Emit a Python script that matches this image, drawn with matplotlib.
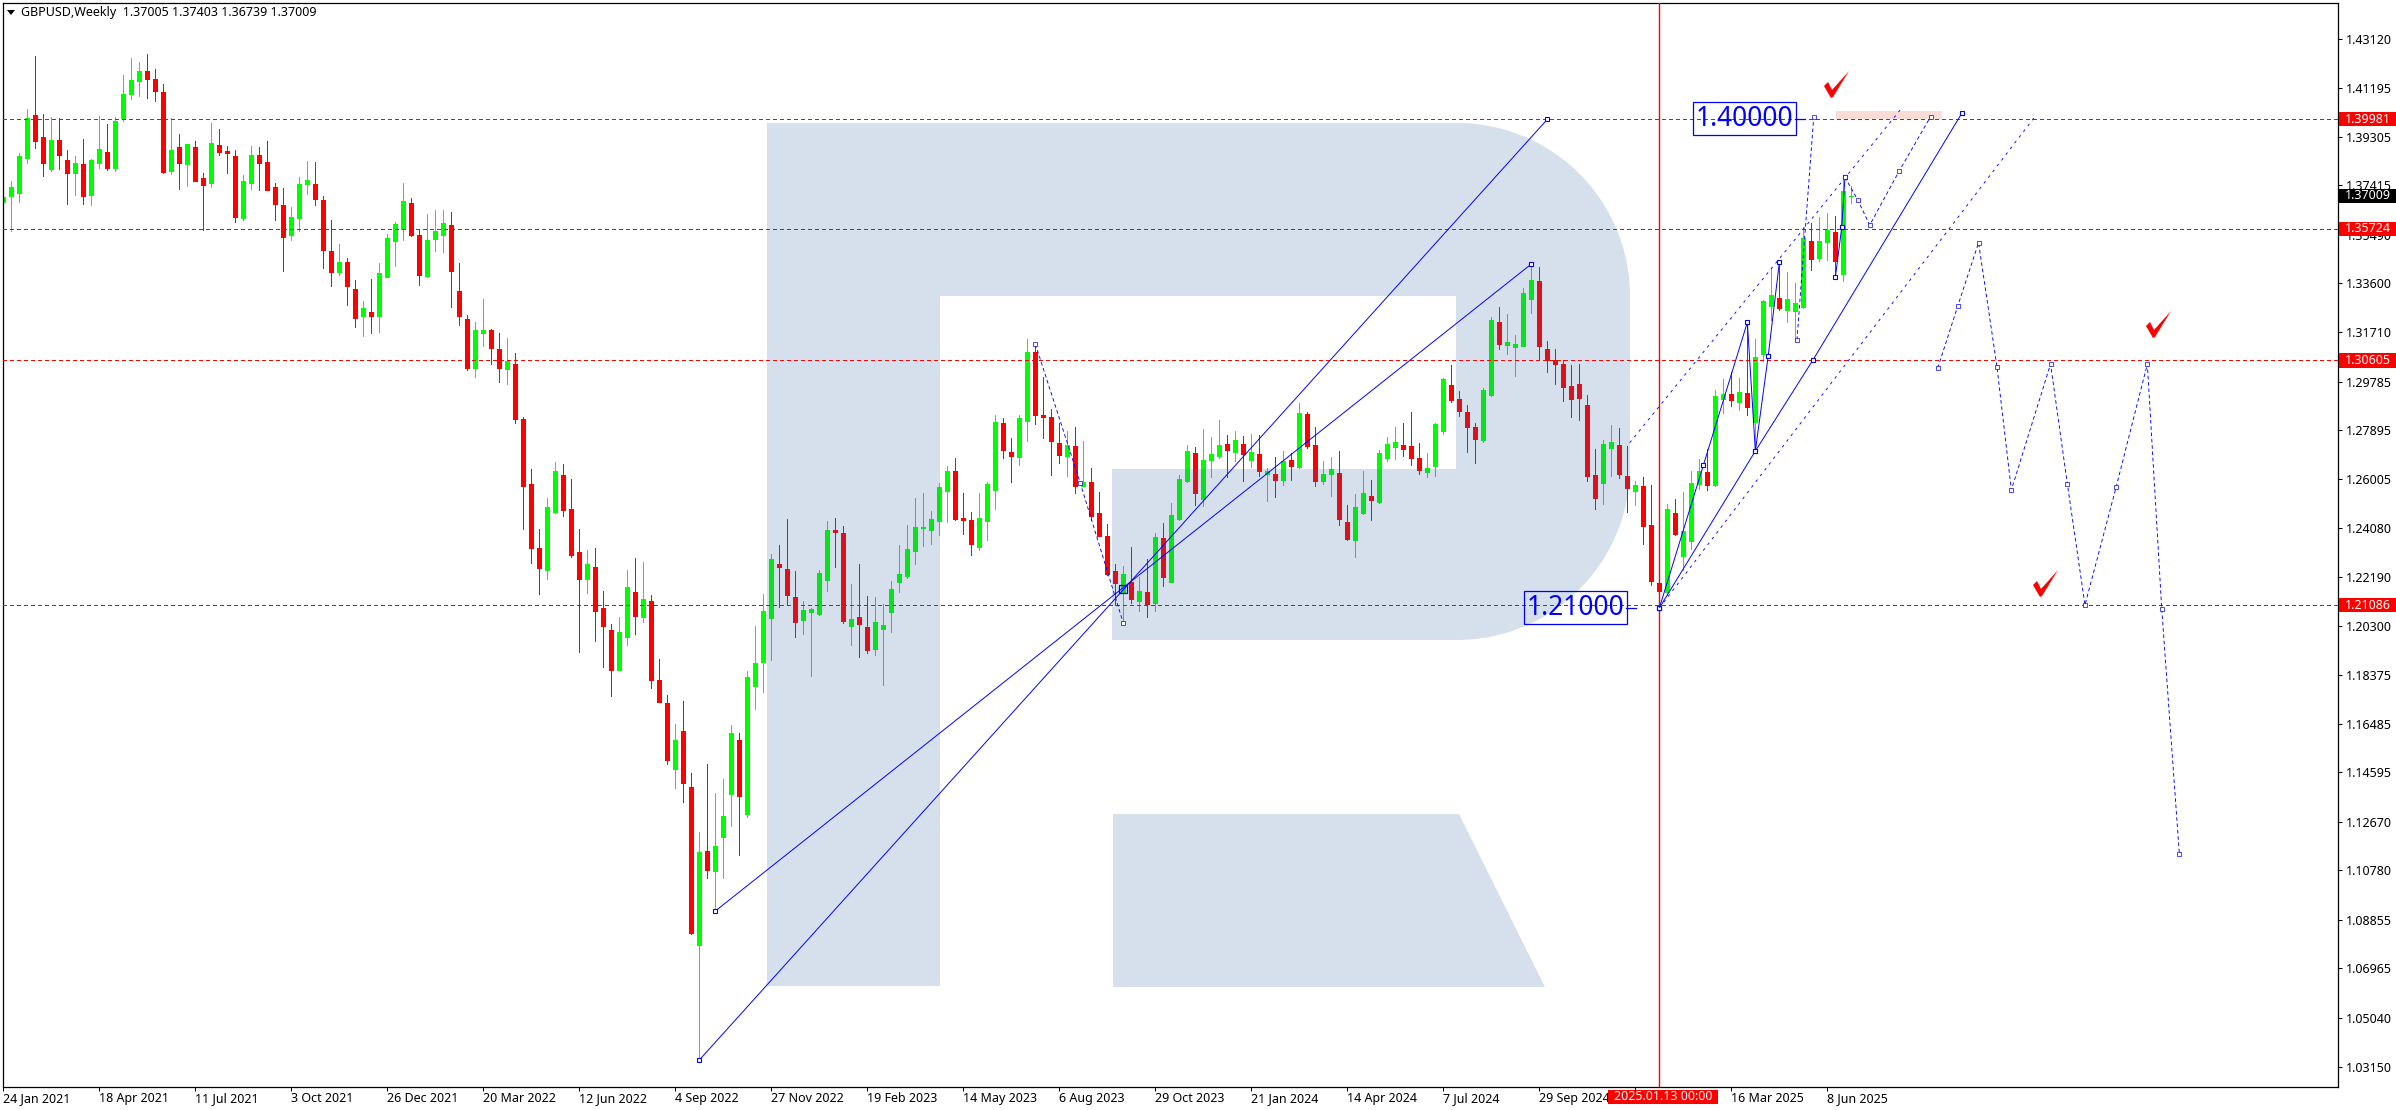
import matplotlib
matplotlib.use("Agg")
import matplotlib.pyplot as plt
import numpy as np
from matplotlib.patches import Polygon, Rectangle
from matplotlib.transforms import blended_transform_factory

W, H = 2396, 1110

# weekly candles, R = falling, G = rising
directions = (
    "GGGGRRGRRG" "RGGRGGGGRR" "RGRGRRGRRR" "GGRRRRGGGR" "RRGRRGRGGG" "GRRGGGRRRG"
    "GRRGRRRRGG" "RRRGRRRGGR" "GRRRGRRGRG" "GGRGGGGRRR" "GGGGRRGRRG" "GGGGGGGGGR"
    "RRGGGRRGGR" "RRRGRGRRRR" "GRGRGRGGGR" "GGGRGRGRGR" "GRGRRGGRRG" "GRGGGRRRGG"
    "GRRRRGGRGG" "GGRRRRRRRR" "GGRRGRRRGR" "GGGRGGRGRG" "GGRGGGRGGR" "GG"
)
highs = [
    1.3758, 1.3758, 1.3867, 1.4038, 1.4244, 1.4019, 1.4007, 1.4003, 1.3879, 1.3855,
    1.3921, 1.3844, 1.4011, 1.3980, 1.4007, 1.4170, 1.4236, 1.4221, 1.4252, 1.4194,
    1.4135, 1.4003, 1.3941, 1.3902, 1.3913, 1.3789, 1.3984, 1.3960, 1.3894, 1.3879,
    1.3781, 1.3894, 1.3890, 1.3913, 1.3750, 1.3731, 1.3657, 1.3773, 1.3836, 1.3832,
    1.3700, 1.3606, 1.3513, 1.3458, 1.3373, 1.3291, 1.3377, 1.3439, 1.3552, 1.3598,
    1.3750, 1.3692, 1.3567, 1.3630, 1.3645, 1.3645, 1.3637, 1.3439, 1.3237, 1.3209,
    1.3299, 1.3182, 1.3167, 1.3147, 1.3089, 1.2840, 1.2638, 1.2404, 1.2525, 1.2665,
    1.2657, 1.2599, 1.2404, 1.2322, 1.2330, 1.2163, 1.2035, 1.2062, 1.2245, 1.2291,
    1.2276, 1.2147, 1.1898, 1.1758, 1.1646, 1.1735, 1.1455, 1.1229, 1.1490, 1.1377,
    1.1435, 1.1642, 1.1611, 1.1852, 1.2027, 1.2151, 1.2307, 1.2342, 1.2443, 1.2241,
    1.2124, 1.2097, 1.2245, 1.2435, 1.2447, 1.2416, 1.2190, 1.2268, 1.2144, 1.2140,
    1.2112, 1.2202, 1.2342, 1.2420, 1.2525, 1.2544, 1.2474, 1.2583, 1.2649, 1.2680,
    1.2544, 1.2470, 1.2544, 1.2587, 1.2848, 1.2836, 1.2758, 1.2848, 1.3143, 1.3124,
    1.2995, 1.2871, 1.2817, 1.2785, 1.2801, 1.2746, 1.2641, 1.2548, 1.2424, 1.2268,
    1.2260, 1.2334, 1.2217, 1.2287, 1.2389, 1.2427, 1.2505, 1.2614, 1.2731, 1.2723,
    1.2793, 1.2762, 1.2828, 1.2770, 1.2785, 1.2766, 1.2774, 1.2770, 1.2641, 1.2684,
    1.2708, 1.2700, 1.2894, 1.2859, 1.2801, 1.2669, 1.2684, 1.2708, 1.2498, 1.2540,
    1.2630, 1.2595, 1.2712, 1.2762, 1.2801, 1.2817, 1.2859, 1.2739, 1.2700, 1.2817,
    1.2992, 1.3042, 1.2941, 1.2887, 1.2817, 1.2953, 1.3229, 1.3268, 1.3241, 1.3159,
    1.3342, 1.3435, 1.3423, 1.3135, 1.3104, 1.3062, 1.3042, 1.3046, 1.2925, 1.2715,
    1.2750, 1.2809, 1.2797, 1.2727, 1.2591, 1.2606, 1.2575, 1.2225, 1.2501, 1.2521,
    1.2548, 1.2630, 1.2676, 1.2715, 1.2945, 1.2988, 1.3015, 1.2992, 1.3209, 1.3143,
    1.3295, 1.3420, 1.3443, 1.3404, 1.3361, 1.3579, 1.3595, 1.3618, 1.3633, 1.3622,
    1.3773, 1.37403,
]
body_top = [
    1.3696, 1.3735, 1.3855, 1.4003, 1.4015, 1.3929, 1.3917, 1.3917, 1.3840, 1.3828,
    1.3824, 1.3840, 1.3882, 1.3871, 1.3991, 1.4096, 1.4151, 1.4186, 1.4186, 1.4155,
    1.4104, 1.3879, 1.3890, 1.3902, 1.3890, 1.3770, 1.3906, 1.3898, 1.3875, 1.3855,
    1.3758, 1.3859, 1.3859, 1.3832, 1.3735, 1.3665, 1.3618, 1.3746, 1.3762, 1.3746,
    1.3684, 1.3486, 1.3443, 1.3443, 1.3338, 1.3264, 1.3248, 1.3400, 1.3536, 1.3591,
    1.3680, 1.3672, 1.3548, 1.3528, 1.3563, 1.3595, 1.3587, 1.3330, 1.3221, 1.3178,
    1.3178, 1.3178, 1.3104, 1.3058, 1.3046, 1.2832, 1.2579, 1.2330, 1.2490, 1.2630,
    1.2614, 1.2482, 1.2315, 1.2268, 1.2256, 1.2097, 1.2011, 1.2004, 1.2179, 1.2159,
    1.2132, 1.2124, 1.1817, 1.1727, 1.1583, 1.1618, 1.1404, 1.1148, 1.1155, 1.1171,
    1.1288, 1.1611, 1.1583, 1.1828, 1.1883, 1.2085, 1.2287, 1.2268, 1.2249, 1.2140,
    1.2089, 1.2093, 1.2233, 1.2400, 1.2400, 1.2389, 1.2054, 1.2062, 1.2023, 1.2042,
    1.2031, 1.2171, 1.2229, 1.2326, 1.2412, 1.2412, 1.2443, 1.2568, 1.2630, 1.2630,
    1.2447, 1.2439, 1.2447, 1.2579, 1.2820, 1.2817, 1.2704, 1.2836, 1.3093, 1.3093,
    1.2848, 1.2840, 1.2739, 1.2731, 1.2727, 1.2587, 1.2587, 1.2466, 1.2377, 1.2241,
    1.2229, 1.2198, 1.2163, 1.2159, 1.2373, 1.2369, 1.2459, 1.2599, 1.2708, 1.2700,
    1.2673, 1.2696, 1.2731, 1.2735, 1.2750, 1.2735, 1.2704, 1.2696, 1.2630, 1.2618,
    1.2669, 1.2673, 1.2855, 1.2851, 1.2731, 1.2618, 1.2638, 1.2622, 1.2431, 1.2490,
    1.2544, 1.2533, 1.2700, 1.2735, 1.2743, 1.2731, 1.2727, 1.2680, 1.2641, 1.2813,
    1.2988, 1.2964, 1.2910, 1.2859, 1.2801, 1.2945, 1.3217, 1.3209, 1.3132, 1.3124,
    1.3322, 1.3373, 1.3369, 1.3104, 1.3062, 1.3046, 1.2960, 1.2968, 1.2887, 1.2614,
    1.2735, 1.2743, 1.2731, 1.2610, 1.2575, 1.2571, 1.2420, 1.2194, 1.2482, 1.2466,
    1.2396, 1.2583, 1.2630, 1.2626, 1.2922, 1.2929, 1.2929, 1.2937, 1.2933, 1.3073,
    1.3291, 1.3314, 1.3303, 1.3299, 1.3283, 1.3536, 1.3525, 1.3525, 1.3567, 1.3559,
    1.3719, 1.37009,
]
body_bottom = [
    1.3676, 1.3700, 1.3711, 1.3847, 1.3913, 1.3828, 1.3805, 1.3859, 1.3789, 1.3789,
    1.3700, 1.3703, 1.3828, 1.3808, 1.3808, 1.4003, 1.4096, 1.4147, 1.4155, 1.4108,
    1.3793, 1.3797, 1.3828, 1.3824, 1.3758, 1.3742, 1.3750, 1.3871, 1.3867, 1.3618,
    1.3614, 1.3750, 1.3828, 1.3723, 1.3668, 1.3540, 1.3548, 1.3614, 1.3746, 1.3688,
    1.3490, 1.3404, 1.3404, 1.3349, 1.3225, 1.3233, 1.3233, 1.3233, 1.3384, 1.3525,
    1.3571, 1.3548, 1.3392, 1.3388, 1.3532, 1.3548, 1.3408, 1.3233, 1.3030, 1.3030,
    1.3167, 1.3108, 1.3030, 1.3027, 1.2832, 1.2571, 1.2330, 1.2252, 1.2245, 1.2470,
    1.2478, 1.2303, 1.2210, 1.2210, 1.2085, 1.2027, 1.1856, 1.1856, 1.1984, 1.2066,
    1.2062, 1.1817, 1.1731, 1.1506, 1.1474, 1.1416, 1.0836, 1.0786, 1.1078, 1.1074,
    1.1206, 1.1373, 1.1366, 1.1299, 1.1793, 1.1887, 1.2058, 1.2256, 1.2147, 1.2042,
    1.2050, 1.2081, 1.2074, 1.2206, 1.2393, 1.2046, 1.2027, 1.2035, 1.1935, 1.1937,
    1.2015, 1.2081, 1.2198, 1.2221, 1.2319, 1.2408, 1.2400, 1.2435, 1.2552, 1.2443,
    1.2439, 1.2346, 1.2334, 1.2435, 1.2556, 1.2712, 1.2688, 1.2684, 1.2824, 1.2848,
    1.2840, 1.2746, 1.2692, 1.2688, 1.2571, 1.2571, 1.2455, 1.2377, 1.2229, 1.2194,
    1.2155, 1.2132, 1.2124, 1.2112, 1.2116, 1.2217, 1.2198, 1.2443, 1.2591, 1.2544,
    1.2521, 1.2673, 1.2688, 1.2712, 1.2704, 1.2696, 1.2673, 1.2630, 1.2618, 1.2595,
    1.2595, 1.2649, 1.2645, 1.2727, 1.2591, 1.2591, 1.2618, 1.2443, 1.2365, 1.2361,
    1.2466, 1.2517, 1.2509, 1.2680, 1.2723, 1.2715, 1.2680, 1.2634, 1.2626, 1.2649,
    1.2785, 1.2906, 1.2863, 1.2801, 1.2754, 1.2750, 1.2925, 1.3124, 1.3120, 1.3112,
    1.3116, 1.3299, 1.3116, 1.3062, 1.3046, 1.2957, 1.2910, 1.2914, 1.2610, 1.2525,
    1.2583, 1.2719, 1.2618, 1.2564, 1.2552, 1.2416, 1.2202, 1.2163, 1.2159, 1.2385,
    1.2299, 1.2358, 1.2579, 1.2575, 1.2575, 1.2910, 1.2906, 1.2898, 1.2879, 1.2820,
    1.3085, 1.3272, 1.3264, 1.3256, 1.3252, 1.3268, 1.3455, 1.3458, 1.3521, 1.3447,
    1.3396, 1.37005,
]
lows = [
    1.3606, 1.3563, 1.3676, 1.3828, 1.3886, 1.3777, 1.3797, 1.3805, 1.3668, 1.3703,
    1.3668, 1.3665, 1.3808, 1.3801, 1.3797, 1.3991, 1.4077, 1.4089, 1.4081, 1.4069,
    1.3789, 1.3785, 1.3727, 1.3738, 1.3758, 1.3567, 1.3735, 1.3859, 1.3789, 1.3598,
    1.3606, 1.3727, 1.3723, 1.3723, 1.3606, 1.3408, 1.3528, 1.3563, 1.3707, 1.3665,
    1.3420, 1.3349, 1.3392, 1.3276, 1.3190, 1.3155, 1.3167, 1.3171, 1.3384, 1.3427,
    1.3528, 1.3544, 1.3353, 1.3384, 1.3486, 1.3482, 1.3268, 1.3198, 1.3023, 1.2995,
    1.3116, 1.3046, 1.2976, 1.2968, 1.2817, 1.2404, 1.2272, 1.2151, 1.2210, 1.2466,
    1.2455, 1.2295, 1.1926, 1.2155, 1.1969, 1.1867, 1.1755, 1.1856, 1.1953, 1.1996,
    1.2042, 1.1786, 1.1731, 1.1490, 1.1397, 1.1342, 1.0829, 1.0339, 1.1047, 1.0922,
    1.1050, 1.1249, 1.1136, 1.1284, 1.1704, 1.1770, 1.1895, 1.2101, 1.2112, 1.1984,
    1.1996, 1.1832, 1.2070, 1.2163, 1.2256, 1.2038, 1.1953, 1.1906, 1.1922, 1.1914,
    1.1797, 1.2004, 1.2159, 1.2214, 1.2268, 1.2338, 1.2346, 1.2381, 1.2431, 1.2439,
    1.2385, 1.2303, 1.2322, 1.2361, 1.2482, 1.2680, 1.2587, 1.2653, 1.2746, 1.2813,
    1.2758, 1.2614, 1.2661, 1.2610, 1.2544, 1.2571, 1.2439, 1.2377, 1.2225, 1.2108,
    1.2038, 1.2116, 1.2085, 1.2062, 1.2085, 1.2182, 1.2198, 1.2439, 1.2587, 1.2498,
    1.2494, 1.2606, 1.2680, 1.2606, 1.2669, 1.2591, 1.2645, 1.2610, 1.2513, 1.2529,
    1.2575, 1.2595, 1.2641, 1.2719, 1.2571, 1.2579, 1.2533, 1.2420, 1.2361, 1.2295,
    1.2462, 1.2439, 1.2505, 1.2669, 1.2676, 1.2688, 1.2653, 1.2618, 1.2606, 1.2610,
    1.2774, 1.2898, 1.2844, 1.2704, 1.2661, 1.2743, 1.2922, 1.3104, 1.3085, 1.3001,
    1.3116, 1.3244, 1.3065, 1.3015, 1.2968, 1.2902, 1.2840, 1.2828, 1.2591, 1.2482,
    1.2501, 1.2610, 1.2603, 1.2470, 1.2498, 1.2346, 1.2186, 1.2112, 1.2147, 1.2381,
    1.2245, 1.2326, 1.2560, 1.2556, 1.2571, 1.2855, 1.2883, 1.2867, 1.2848, 1.2712,
    1.3058, 1.3217, 1.3256, 1.3209, 1.3139, 1.3264, 1.3412, 1.3447, 1.3451, 1.3385,
    1.3369, 1.36739,
]

levels = [1.39981, 1.35724, 1.30605, 1.21086]
last_price = 1.37009
price_ticks = [
    1.43120, 1.41195, 1.39305, 1.37415, 1.35490, 1.33600, 1.31710, 1.29785, 1.27895,
    1.26005, 1.24080, 1.22190, 1.20300, 1.18375, 1.16485, 1.14595, 1.12670, 1.10780,
    1.08855, 1.06965, 1.05040, 1.03150,
]
# the 22 Dec 2024 label sits behind the date box in the terminal
date_labels = [
    "24 Jan 2021", "18 Apr 2021", "11 Jul 2021", "3 Oct 2021", "26 Dec 2021",
    "20 Mar 2022", "12 Jun 2022", "4 Sep 2022", "27 Nov 2022", "19 Feb 2023",
    "14 May 2023", "6 Aug 2023", "29 Oct 2023", "21 Jan 2024", "14 Apr 2024",
    "7 Jul 2024", "29 Sep 2024", "", "16 Mar 2025", "8 Jun 2025",
]
marker_bar = 207

# analysis objects: bar number, price
trend_a = ([89, 191], [1.09200, 1.34355])
trend_b = ([87, 193], [1.03407, 1.39981])
channel = ([207, 219, 226.2, 244.8], [1.20981, 1.27084, 1.30623, 1.40214])
wave_up = ([207, 212.5, 218, 219, 220.6, 222], [1.20981, 1.26529, 1.32088, 1.27084, 1.30766, 1.34421])
wave_last = ([229, 229.8, 230.2], [1.33838, 1.35782, 1.37726])
channel_upper = ([203.3, 237.1], [1.27407, 1.40342])
channel_lower = ([207, 254.1], [1.20981, 1.40148])
old_drop = ([129, 134.6, 140], [1.31245, 1.25852, 1.20385])
old_rise = ([224.2, 226.3], [1.31400, 1.40082])
path_near = ([230.2, 231.8, 233.3, 237.0, 240.9], [1.37726, 1.36843, 1.35871, 1.37982, 1.40082])
path_far = (
    [241.8, 244.3, 246.9, 249.2, 251.0, 255.9, 258.0, 260.2, 264.1, 268.0, 269.8, 272.0],
    [1.30312, 1.32722, 1.35183, 1.30362, 1.25568, 1.30467, 1.25801, 1.21097, 1.25685,
     1.30467, 1.20942, 1.11416],
)

blue = "#0000FF"
red = "#FF0000"
text_kw = {"family": ["Noto Sans", "DejaVu Sans"], "fontsize": 9}


def px(x, y):
    return x / W, 1 - y / H


fig = plt.figure(figsize=(W / 100, H / 100), dpi=100, facecolor="white")
left, right, top, bottom = 2.5, 2338, 2.5, 1086.5
ax = fig.add_axes([left / W, 1 - bottom / H, (right - left) / W, (bottom - top) / H])
ax.set_xlim(-0.104, 291.83)
ax.set_ylim(1.02377, 1.44522)
ax.set_axisbelow(True)

# candles
x = np.arange(len(highs))
colors = [("#00FF00" if d == "G" else red) for d in directions]
ax.vlines(x, lows, highs, colors=colors, linewidth=0.72, antialiased=False, zorder=2)
tops = np.array(body_top)
bots = np.array(body_bottom)
ax.bar(x, tops - bots, bottom=bots, width=4.2 / 8, color=colors, edgecolor=colors,
       linewidth=0.72, antialiased=False, zorder=2)

# logo lies over the candles, lines stay above it
logo_color = (50 / 255, 100 / 255, 160 / 255, 0.2)
t = np.linspace(-np.pi / 2, 0, 40)
upper_arc = np.column_stack([1457 + 173 * np.cos(t), 296 + 173 * np.sin(t)])
t = np.linspace(0, np.pi / 2, 40)
lower_arc = np.column_stack([1457 + 173 * np.cos(t), 467 + 173 * np.sin(t)])
bowl = np.vstack([
    [[767, 123]], upper_arc, lower_arc,
    [[1112, 640], [1112, 469], [1456, 469], [1456, 296], [940, 296], [940, 986], [767, 986]],
])
leg = np.array([[1113, 814], [1459, 814], [1545, 987], [1113, 987]])
for shape in (bowl, leg):
    fig_xy = np.column_stack([shape[:, 0] / W, 1 - shape[:, 1] / H])
    ax.add_patch(Polygon(fig_xy, closed=True, transform=fig.transFigure, facecolor=logo_color,
                         edgecolor="none", zorder=3))

# levels and session marker
for lv in levels:
    ax.axhline(lv, color=red, linewidth=0.72, linestyle=(0, (3, 3)), antialiased=False, zorder=4)
ax.axvline(marker_bar, color=red, linewidth=1.0, zorder=4)

ax.add_patch(Rectangle((229.1, 1.39981), 13.2, 0.0032, facecolor="#FBDDD8", edgecolor="none", zorder=3.5))

# solid objects
for xs, ys in (trend_a, trend_b, channel, wave_up, wave_last):
    ax.plot(xs, ys, color=blue, linewidth=0.7, marker="s", markersize=3.4,
            markerfacecolor="white", markeredgecolor=blue, markeredgewidth=0.8, zorder=5)
ax.plot([140], [1.21708], marker="s", markersize=5.5, markerfacecolor="none", markeredgecolor=blue,
        markeredgewidth=0.9, zorder=5)

# dashed objects
for xs, ys in (channel_upper, channel_lower):
    ax.plot(xs, ys, color=blue, linewidth=0.65, linestyle=(0, (3, 5)), zorder=5)
for xs, ys in (old_drop, old_rise, path_near, path_far):
    ax.plot(xs, ys, color=blue, linewidth=0.65, linestyle=(0, (4, 3)), marker="s",
            markersize=2.6, markerfacecolor="white", markeredgecolor=blue, markeredgewidth=0.5, zorder=5)

# target labels
for bar, price, label, stub in ((217.6, 1.4, "1.40000", (223.9, 225.2)), (196.5, 1.21, "1.21000", (202.8, 204.1))):
    ax.text(bar, price, label, color=blue, fontsize=19, family=["Noto Sans", "DejaVu Sans"], ha="center",
            va="center", zorder=6,
            bbox=dict(boxstyle="square,pad=0.1", facecolor="none", edgecolor=blue, linewidth=0.9))
    ax.plot(stub, [price, price], color=blue, linewidth=0.9, zorder=5)

# check marks
check = np.array([[-7, -12], [-3, -16], [1, -8], [18, -27], [2, -1], [0, 0]])
for cx, cy in ((1831, 98), (2153, 338), (2040, 597)):
    fx = (cx + check[:, 0]) / W
    fy = 1 - (cy + check[:, 1]) / H
    ax.add_patch(Polygon(np.column_stack([fx, fy]), closed=True, transform=fig.transFigure,
                         facecolor=red, edgecolor="none", zorder=6))

# axes
ax.yaxis.tick_right()
ax.set_yticks(price_ticks)
ax.set_yticklabels([f"{p:.5f}" for p in price_ticks], **text_kw)
ax.set_xticks(np.arange(len(date_labels)) * 12)
ax.set_xticklabels(date_labels, ha="left", **text_kw)
ax.tick_params(axis="both", length=3, width=0.72, color="black")
ax.tick_params(axis="x", pad=1)
ax.tick_params(axis="y", pad=3)
for s in ax.spines.values():
    s.set_linewidth(0.9)

# price boxes on the right
trans = blended_transform_factory(ax.transAxes, ax.transData)
half = 0.0028
for lv, bg in [(last_price, "black")] + [(lv, red) for lv in levels]:
    ax.add_patch(Rectangle((1.0003, lv - half), 0.0245, 2 * half, transform=trans, facecolor=bg,
                           edgecolor="none", clip_on=False, zorder=7))
    ax.text(1.0030, lv, f"{lv:.5f}", transform=trans, color="white", ha="left", va="center",
            clip_on=False, zorder=8, **text_kw)

# date box
bx0, by0 = px(1608, 1104)
bx1, by1 = px(1718, 1090)
fig.add_artist(Rectangle((bx0, by0), bx1 - bx0, by1 - by0, transform=fig.transFigure, facecolor=red,
                         edgecolor="none", zorder=7))
fig.text(*px(1663, 1097), "2025.01.13 00:00", color="white", ha="center", va="center", zorder=8, **text_kw)

# chart header
fig.add_artist(Polygon([px(7, 10), px(15, 10), px(11, 15)], closed=True, transform=fig.transFigure,
                       facecolor="black", edgecolor="none"))
fig.text(*px(21, 12.5), "GBPUSD,Weekly  1.37005 1.37403 1.36739 1.37009", color="black", ha="left",
         va="center", **text_kw)

fig.savefig("out.png", dpi=100)
